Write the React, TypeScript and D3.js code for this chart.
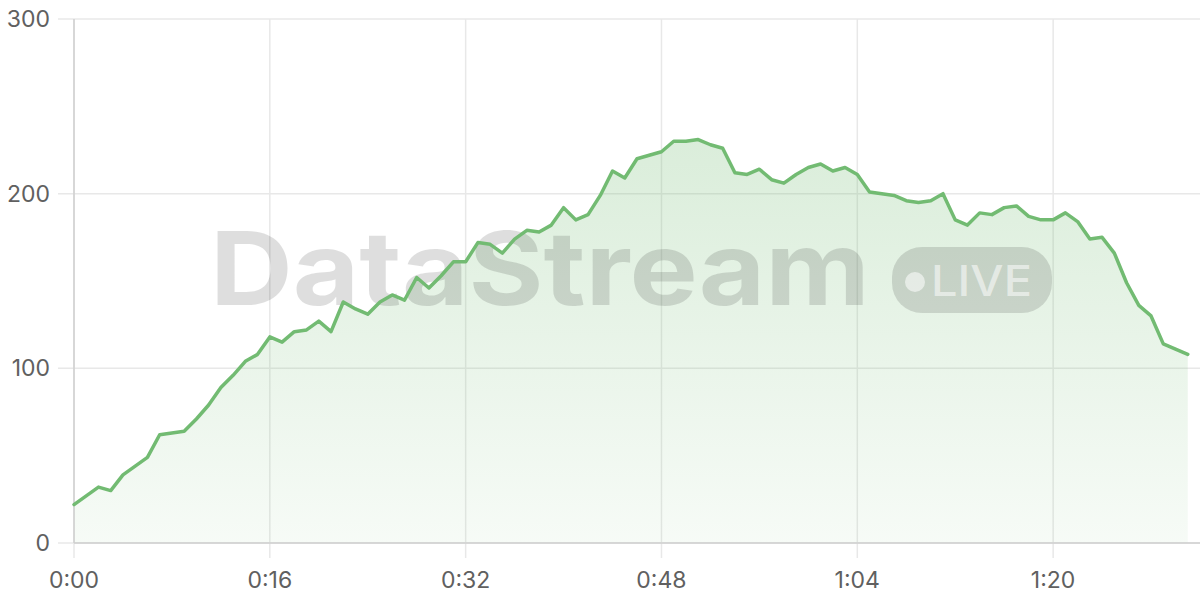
import React from "react";
import * as d3 from "d3";

const seconds: number[] = Array.from({ length: 92 }, (_, i) => i);
const values: number[] = [
  22, 27, 32, 30, 39, 44, 49, 62, 63, 64,
  71, 79, 89, 96, 104, 108, 118, 115, 121, 122,
  127, 121, 138, 134, 131, 138, 142, 139, 152, 146,
  153, 161, 161, 172, 171, 166, 174, 179, 178, 182,
  192, 185, 188, 199, 213, 209, 220, 222, 224, 230,
  230, 231, 228, 226, 212, 211, 214, 208, 206, 211,
  215, 217, 213, 215, 211, 201, 200, 199, 196, 195,
  196, 200, 185, 182, 189, 188, 192, 193, 187, 185,
  185, 189, 184, 174, 175, 166, 149, 136, 130, 114,
  111, 108,
];
const xTicks: number[] = [0, 16, 32, 48, 64, 80];
const yTicks: number[] = [0, 100, 200, 300];
const watermarkText = "DataStream";
const badgeText = "LIVE";

const W = 1200;
const H = 600;
const left = 74;
const right = 1200;
const top = 19;
const bottom = 543;

const fmt = (t: number) => `${Math.floor(t / 60)}:${String(t % 60).padStart(2, "0")}`;

export default function App() {
  const x = d3.scaleLinear().domain([0, 92]).range([left, right]);
  const y = d3.scaleLinear().domain([0, 300]).range([bottom, top]);
  const data = seconds.map((s, i) => ({ s, v: values[i] }));
  const line = d3
    .line<{ s: number; v: number }>()
    .x((d) => x(d.s))
    .y((d) => y(d.v));
  const area = d3
    .area<{ s: number; v: number }>()
    .x((d) => x(d.s))
    .y0(y(0))
    .y1((d) => y(d.v));
  const maxV = d3.max(values) as number;
  const font = "Inter, 'Noto Sans', sans-serif";

  return (
    <svg
      width={W}
      height={H}
      style={{ position: "absolute", left: 0, top: 0, display: "block" }}
      fontFamily={font}
    >
      <defs>
        <linearGradient id="areaGrad" gradientUnits="userSpaceOnUse" x1={0} x2={0} y1={y(maxV)} y2={y(0)}>
          <stop offset="0%" stopColor="#72bb72" stopOpacity={0.26} />
          <stop offset="100%" stopColor="#72bb72" stopOpacity={0.06} />
        </linearGradient>
      </defs>
      <rect x={0} y={0} width={W} height={H} fill="#fff" />
      {yTicks.map((t) => (
        <line key={"gy" + t} x1={left - 16} x2={right} y1={y(t)} y2={y(t)} stroke="#e8e8e8" strokeWidth={1.5} />
      ))}
      {xTicks.map((t) => (
        <line key={"gx" + t} x1={x(t)} x2={x(t)} y1={top} y2={bottom + 15} stroke="#e8e8e8" strokeWidth={1.5} />
      ))}
      <path d={area(data) || ""} fill="url(#areaGrad)" />
      <g>
        <text
          x={210}
          y={305}
          fontSize={102}
          fontWeight={700}
          fill="#000"
          fillOpacity={0.13}
          textLength={660}
          lengthAdjust="spacingAndGlyphs"
          fontFamily={font}
        >
          {watermarkText}
        </text>
        <rect x={892} y={247} width={160} height={66} rx={30} fill="#000" fillOpacity={0.13} />
        <circle cx={915} cy={282} r={10} fill="#fff" fillOpacity={0.55} />
        <text
          x={931}
          y={296}
          fontSize={42}
          fontWeight={500}
          fill="#fff"
          fillOpacity={0.55}
          textLength={101}
          lengthAdjust="spacingAndGlyphs"
          fontFamily={font}
        >
          {badgeText}
        </text>
      </g>
      <line x1={left} x2={left} y1={top} y2={bottom} stroke="#cfcfcf" strokeWidth={1.5} />
      <line x1={left} x2={right} y1={bottom} y2={bottom} stroke="#cfcfcf" strokeWidth={1.5} />
      <path d={line(data) || ""} fill="none" stroke="#72bb72" strokeWidth={3.5} strokeLinejoin="round" strokeLinecap="round" />
      {yTicks.map((t) => (
        <text key={"ly" + t} x={50} y={y(t)} dy="0.35em" textAnchor="end" fontSize={23} fill="#606060">
          {t}
        </text>
      ))}
      {xTicks.map((t) => (
        <text key={"lx" + t} x={x(t)} y={580} dy="0.35em" textAnchor="middle" fontSize={23} fill="#606060">
          {fmt(t)}
        </text>
      ))}
    </svg>
  );
}
